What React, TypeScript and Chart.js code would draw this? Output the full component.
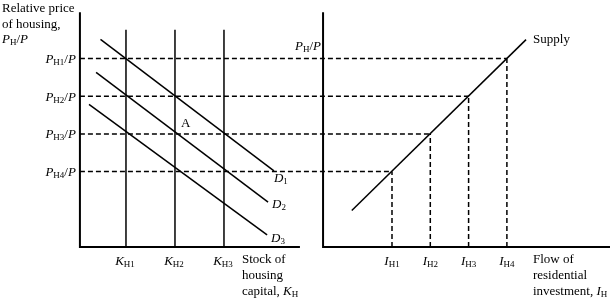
import { useEffect, useRef } from 'react';
import { Chart, registerables } from 'chart.js';

Chart.register(...registerables);

// ---------- Left panel: stock of housing capital ----------
const kSubs = ['H1', 'H2', 'H3'];
const kValues = [1, 2, 3];
const kLineTop = 5.76;
const priceSubs = ['H1', 'H2', 'H3', 'H4'];
const priceLevels = [5, 4, 3, 2];
const demandSubs = ['1', '2', '3'];
const demandK = [
  [0.48, 4.02],
  [0.39, 3.9],
  [0.245, 3.88],
];
const demandP = [
  [5.51, 2.02],
  [4.63, 1.19],
  [3.785, 0.32],
];
const pointA = [2, 3];

// ---------- Right panel: flow of residential investment ----------
const investSubs = ['H1', 'H2', 'H3', 'H4'];
const investValues = [2, 3, 4, 5];
const supplyI = [0.95, 5.5];
const supplyP = [0.97, 5.5];

// ---------- axis extents ----------
const leftAxisK = [0.06, 4.55];
const rightAxisI = [0.2, 7.7];
const axisTopP = 6.23;

const FONT = '"Liberation Serif", "Times New Roman", serif';
type Kind = 'n' | 'i' | 's';
type Seg = [string, Kind];

function fontFor(k: Kind) {
  if (k === 'i') return `italic 13px ${FONT}`;
  if (k === 's') return `9px ${FONT}`;
  return `13px ${FONT}`;
}

function drawRich(ctx: CanvasRenderingContext2D, segs: Seg[], x: number, baseline: number, align: 'left' | 'right' | 'center') {
  let w = 0;
  const widths: number[] = [];
  for (const [t, k] of segs) {
    ctx.font = fontFor(k);
    const m = ctx.measureText(t).width;
    widths.push(m);
    w += m;
  }
  let cx = align === 'right' ? x - w : align === 'center' ? x - w / 2 : x;
  segs.forEach(([t, k], i) => {
    ctx.font = fontFor(k);
    ctx.fillText(t, cx, k === 's' ? baseline + 2 : baseline);
    cx += widths[i];
  });
}

const overlay = {
  id: 'overlay',
  beforeDatasetsDraw(chart: any) {
    const ctx: CanvasRenderingContext2D = chart.ctx;
    const xL = chart.scales.xL;
    const xR = chart.scales.xR;
    const y = chart.scales.y;
    ctx.save();
    ctx.strokeStyle = '#000';
    ctx.lineWidth = 1.5;
    ctx.setLineDash([5, 3]);
    priceLevels.forEach((p, j) => {
      const py = y.getPixelForValue(p);
      const iv = investValues[priceLevels.length - 1 - j];
      ctx.beginPath();
      ctx.moveTo(xL.getPixelForValue(leftAxisK[0]), py);
      ctx.lineTo(xR.getPixelForValue(iv), py);
      ctx.stroke();
    });
    ctx.restore();
  },
  afterDatasetsDraw(chart: any) {
    const ctx: CanvasRenderingContext2D = chart.ctx;
    const xL = chart.scales.xL;
    const xR = chart.scales.xR;
    const y = chart.scales.y;
    ctx.save();
    ctx.fillStyle = '#000';
    ctx.textBaseline = 'alphabetic';
    const axisY = y.getPixelForValue(0);
    const leftAxisX = xL.getPixelForValue(leftAxisK[0]);
    const rightAxisX = xR.getPixelForValue(rightAxisI[0]);

    // Left y-axis title
    drawRich(ctx, [['Relative price', 'n']], 2, 12, 'left');
    drawRich(ctx, [['of housing,', 'n']], 2, 27.5, 'left');
    drawRich(ctx, [['P', 'i'], ['H', 's'], ['/', 'n'], ['P', 'i']], 2, 43, 'left');

    // price tick labels
    priceLevels.forEach((p, j) => {
      drawRich(ctx, [['P', 'i'], [priceSubs[j], 's'], ['/', 'n'], ['P', 'i']], leftAxisX - 4, y.getPixelForValue(p) + 4.5, 'right');
    });

    // K tick labels
    kValues.forEach((k, j) => {
      drawRich(ctx, [['K', 'i'], [kSubs[j], 's']], xL.getPixelForValue(k) - 1, axisY + 18, 'center');
    });
    const kTitleX = xL.getPixelForValue(leftAxisK[1]) - 58;
    drawRich(ctx, [['Stock of', 'n']], kTitleX, axisY + 16, 'left');
    drawRich(ctx, [['housing', 'n']], kTitleX, axisY + 32, 'left');
    drawRich(ctx, [['capital, ', 'n'], ['K', 'i'], ['H', 's']], kTitleX, axisY + 48, 'left');

    // A label
    drawRich(ctx, [['A', 'n']], xL.getPixelForValue(pointA[0]) + 6, y.getPixelForValue(pointA[1]) - 7, 'left');

    // Demand labels
    const dOff = [[0, 11], [4, 6], [4, 7]];
    demandSubs.forEach((s, j) => {
      const ex = xL.getPixelForValue(demandK[j][1]);
      const ey = y.getPixelForValue(demandP[j][1]);
      drawRich(ctx, [['D', 'i'], [s, 's']], ex + dOff[j][0], ey + dOff[j][1], 'left');
    });

    // Right panel y label
    drawRich(ctx, [['P', 'i'], ['H', 's'], ['/', 'n'], ['P', 'i']], rightAxisX - 2, y.getPixelForValue(priceLevels[0]) - 8.5, 'right');

    // Supply label
    drawRich(ctx, [['Supply', 'n']], xR.getPixelForValue(supplyI[1]) + 7, y.getPixelForValue(supplyP[1]) + 3, 'left');

    // I tick labels
    investValues.forEach((iv, j) => {
      drawRich(ctx, [['I', 'i'], [investSubs[j], 's']], xR.getPixelForValue(iv), axisY + 18, 'center');
    });
    const iTitleX = xR.getPixelForValue(investValues[investValues.length - 1]) + 26;
    drawRich(ctx, [['Flow of', 'n']], iTitleX, axisY + 16, 'left');
    drawRich(ctx, [['residential', 'n']], iTitleX, axisY + 32, 'left');
    drawRich(ctx, [['investment, ', 'n'], ['I', 'i'], ['H', 's']], iTitleX, axisY + 48, 'left');

    ctx.restore();
  },
};

function line(data: { x: number; y: number }[], xAxisID: string, width = 1.5, dash: number[] = []) {
  return {
    data,
    xAxisID,
    yAxisID: 'y',
    showLine: true,
    borderColor: '#000',
    backgroundColor: '#000',
    borderWidth: width,
    borderDash: dash,
    borderJoinStyle: 'miter' as const,
    pointRadius: 0,
    pointHoverRadius: 0,
    fill: false,
    tension: 0,
  };
}

export default function App() {
  const ref = useRef<HTMLCanvasElement | null>(null);
  useEffect(() => {
    if (!ref.current) return;
    const datasets: any[] = [];
    // axes
    datasets.push(line([{ x: leftAxisK[0], y: axisTopP }, { x: leftAxisK[0], y: 0 }, { x: leftAxisK[1], y: 0 }], 'xL', 2));
    datasets.push(line([{ x: rightAxisI[0], y: axisTopP }, { x: rightAxisI[0], y: 0 }, { x: rightAxisI[1], y: 0 }], 'xR', 2));
    // K stock lines
    kValues.forEach((k) => datasets.push(line([{ x: k, y: 0 }, { x: k, y: kLineTop }], 'xL')));
    // demand
    demandK.forEach((ks, j) =>
      datasets.push(line([{ x: ks[0], y: demandP[j][0] }, { x: ks[1], y: demandP[j][1] }], 'xL'))
    );
    // supply
    datasets.push(line([{ x: supplyI[0], y: supplyP[0] }, { x: supplyI[1], y: supplyP[1] }], 'xR'));
    // vertical dashed guides
    investValues.forEach((iv, i) => {
      const p = priceLevels[priceLevels.length - 1 - i];
      datasets.push(line([{ x: iv, y: 0 }, { x: iv, y: p }], 'xR', 1.5, [5, 3]));
    });

    const chart = new Chart(ref.current, {
      type: 'scatter',
      data: { datasets },
      options: {
        animation: false,
        responsive: false,
        devicePixelRatio: 1,
        layout: { padding: 0 },
        plugins: { legend: { display: false }, tooltip: { enabled: false }, title: { display: false } },
        events: [],
        scales: {
          xL: { type: 'linear', display: false, min: -1.571, max: 10.878, bounds: 'data' },
          xR: { type: 'linear', display: false, min: -8.235, max: 7.692, bounds: 'data' },
          y: { type: 'linear', display: false, min: -1.406, max: 6.552, bounds: 'data' },
        },
      } as any,
      plugins: [overlay],
    });
    return () => chart.destroy();
  }, []);
  return (
    <div style={{ position: 'fixed', left: 0, top: 0, width: 610, height: 300, background: '#fff' }}>
      <canvas ref={ref} width={610} height={300} style={{ width: 610, height: 300, display: 'block' }} />
    </div>
  );
}
